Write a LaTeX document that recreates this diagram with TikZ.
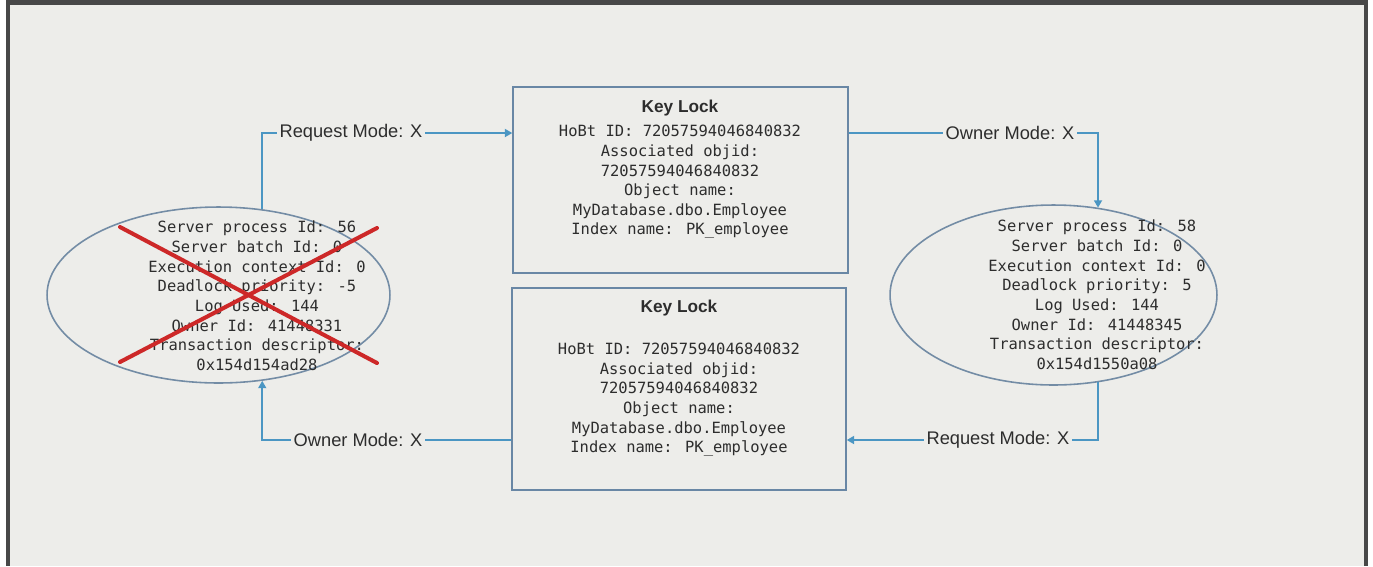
\documentclass[tikz,border=0pt]{standalone}
\usepackage{fontspec}
\setmainfont{Liberation Sans}
\newfontfamily\codefont{DejaVu Sans Mono}
\usetikzlibrary{arrows.meta,shapes.geometric}

\definecolor{paper}{RGB}{237,237,234}
\definecolor{framegray}{RGB}{72,72,72}
\definecolor{boxedge}{RGB}{105,135,165}
\definecolor{ellipseedge}{RGB}{115,140,165}
\definecolor{wire}{RGB}{75,150,195}
\definecolor{ink}{RGB}{45,45,45}
\definecolor{crossred}{RGB}{205,40,40}

\tikzset{
  lockbox/.style={draw=boxedge, line width=0.9pt, rectangle, inner sep=0pt},
  procellipse/.style={draw=ellipseedge, line width=0.9pt, ellipse, inner sep=0pt},
  codetext/.style={align=center, text=ink, inner sep=0pt,
    font=\codefont\fontsize{8.8}{11.2}\selectfont},
  locktext/.style={codetext, font=\codefont\fontsize{8.8}{11.15}\selectfont},
  modelabel/.style={fill=paper, text=ink, inner sep=1.5pt,
    font=\fontsize{10.4}{12}\selectfont},
  conn/.style={draw=wire, line width=0.9pt},
  tip/.style={-{Triangle[width=4.6pt,length=4.2pt]}},
  crossline/.style={draw=crossred, line width=2.3pt, line cap=round}
}

\newcommand{\locktitle}{{\rmfamily\bfseries\fontsize{9.8}{11}\selectfont Key Lock}}

\begin{document}
\begin{tikzpicture}[x=0.02cm, y=-0.02cm]
  \useasboundingbox (0,0) rectangle (1373,566);
  % screen frame and paper
  \fill[white] (0,0) rectangle (1373,566);
  \fill[framegray] (6,0) rectangle (1368,566);
  \fill[paper] (10,5) rectangle (1364,566);

  % lock resources
  \node[lockbox, minimum width=6.7cm, minimum height=3.72cm] (kl1) at (680.5,180) {};
  \node[lockbox, minimum width=6.68cm, minimum height=4.04cm] (kl2) at (679,389) {};

  \node[locktext] (kl1txt) at (680,169) {\locktitle\\[3pt]
    HoBt ID: 72057594046840832\\
    Associated objid:\\
    72057594046840832\\
    Object name:\\
    MyDatabase.dbo.Employee\\
    Index name: PK\_employee};

  \node[locktext] (kl2txt) at (679,378) {\locktitle\\[13pt]
    HoBt ID: 72057594046840832\\
    Associated objid:\\
    72057594046840832\\
    Object name:\\
    MyDatabase.dbo.Employee\\
    Index name: PK\_employee};

  % processes
  \node[procellipse, minimum width=6.86cm, minimum height=3.52cm] (victim) at (218.5,295) {};
  \node[procellipse, minimum width=6.54cm, minimum height=3.6cm] (survivor) at (1053.5,295) {};

  \node[codetext] (victimtxt) at (257,296) {Server process Id: 56\\
    Server batch Id: 0\\
    Execution context Id: 0\\
    Deadlock priority: -5\\
    Log Used: 144\\
    Owner Id: 41448331\\
    Transaction descriptor:\\
    0x154d154ad28};

  \node[codetext] (survivortxt) at (1097,295) {Server process Id: 58\\
    Server batch Id: 0\\
    Execution context Id: 0\\
    Deadlock priority: 5\\
    Log Used: 144\\
    Owner Id: 41448345\\
    Transaction descriptor:\\
    0x154d1550a08};

  % mode labels
  \node[modelabel] (reqtop) at (351,133) {Request Mode: X};
  \node[modelabel] (owntop) at (1010,133) {Owner Mode: X};
  \node[modelabel] (reqbot) at (998,440) {Request Mode: X};
  \node[modelabel] (ownbot) at (358,440) {Owner Mode: X};

  % wait-for edges
  \draw[conn] (victim.63.5) |- (reqtop.west);
  \draw[conn, tip] (reqtop.east) -- (reqtop.east -| kl1.west);
  \draw[conn] (kl1.east |- owntop.west) -- (owntop.west);
  \draw[conn, tip] (owntop.east) -| (survivor.63.4);
  \draw[conn] (survivor.-63.4) |- (reqbot.east);
  \draw[conn, tip] (reqbot.west) -- (reqbot.west -| kl2.east);
  \draw[conn] (kl2.west |- ownbot.east) -- (ownbot.east);
  \draw[conn, tip] (ownbot.west) -| (victim.-63.5);

  % deadlock victim cross
  \draw[crossline] (120,227) -- (377,363);
  \draw[crossline] (377,228) -- (120,362);
\end{tikzpicture}
\end{document}
